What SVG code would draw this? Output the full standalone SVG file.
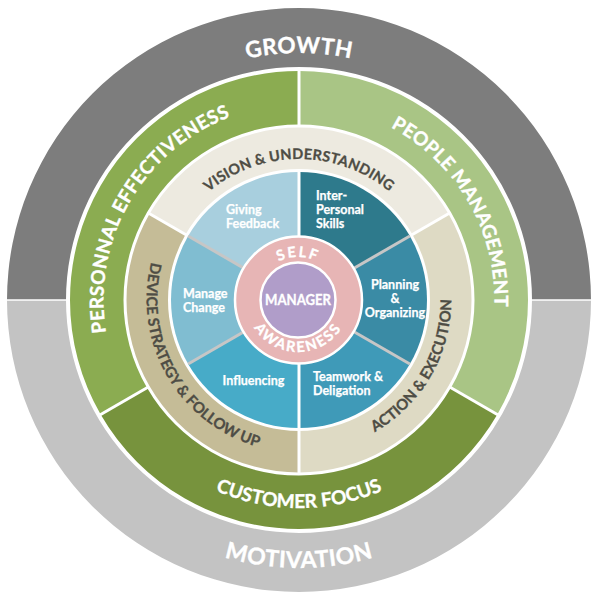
<svg xmlns="http://www.w3.org/2000/svg" xmlns:xlink="http://www.w3.org/1999/xlink" width="600" height="607" viewBox="0 0 600 607">
<style>
.t{font-family:Lato,"Open Sans","Liberation Sans",sans-serif;font-weight:700}
.w{fill:#ffffff;stroke:#ffffff;stroke-width:0.35}
.c{fill:#4e4d45;stroke:#4e4d45;stroke-width:0.3}
.sep{stroke:#ffffff;stroke-width:3;fill:none}
.bsep{stroke:#c6c6c6;stroke-width:3;fill:none}
.lbl{font-family:Lato,"Open Sans","Liberation Sans",sans-serif;font-weight:700;font-size:12.5px;fill:#ffffff;stroke:#ffffff;stroke-width:0.25}
</style>
<defs>
<path id="pGrowth" d="M52,300 A247,247 0 0 1 546,300"/>
<path id="pMotiv" d="M31,300 A268,268 0 0 0 567,300"/>
<path id="pPersonal" d="M201,469.74 A196,196 0 0 1 397,130.26"/>
<path id="pPeople" d="M201,130.26 A196,196 0 0 1 397,469.74"/>
<path id="pCustomer" d="M91,300 A208,208 0 0 0 507,300"/>
<path id="pVision" d="M158,300 A141,141 0 0 1 440,300"/>
<path id="pDevice" d="M222.5,167.5 A153,153 0 0 0 375.5,432.5"/>
<path id="pAction" d="M222.5,432.5 A153,153 0 0 0 375.5,167.5"/>
<path id="pSelf" d="M255,300 A43,43 0 0 1 341,300"/>
<path id="pAware" d="M246,300 A52,52 0 0 0 350,300"/>
</defs>
<rect width="600" height="607" fill="#ffffff"/>

<g id="growth">
<path d="M7,300 A292,292 0 0 1 591,300 L532,300 A233,233 0 0 0 66,300 Z" fill="#7d7d7d"/>
<text class="t w" font-size="22.5" letter-spacing="0.4"><textPath href="#pGrowth" startOffset="50%" text-anchor="middle">GROWTH</textPath></text>
</g>
<g id="motivation">
<path d="M7,300 A292,292 0 0 0 591,300 L532,300 A233,233 0 0 1 66,300 Z" fill="#c3c3c3"/>
<text class="t w" font-size="23" letter-spacing="0.5"><textPath href="#pMotiv" startOffset="50%" text-anchor="middle">MOTIVATION</textPath></text>
</g>

<g id="personal-effectiveness">
<path d="M100.68,414.5 A229,229 0 0 1 299,71 L299,124.5 A175.5,175.5 0 0 0 147.01,387.75 Z" fill="#8bac51"/>
<text class="t w" font-size="19" letter-spacing="0.4"><textPath href="#pPersonal" startOffset="50%" text-anchor="middle">PERSONNAL EFFECTIVENESS</textPath></text>
</g>
<g id="people-management">
<path d="M299,71 A229,229 0 0 1 497.32,414.5 L450.99,387.75 A175.5,175.5 0 0 0 299,124.5 Z" fill="#a9c585"/>
<text class="t w" font-size="19" letter-spacing="0.3"><textPath href="#pPeople" startOffset="50%" text-anchor="middle">PEOPLE MANAGEMENT</textPath></text>
</g>
<g id="customer-focus">
<path d="M497.32,414.5 A229,229 0 0 1 100.68,414.5 L147.01,387.75 A175.5,175.5 0 0 0 450.99,387.75 Z" fill="#77933d"/>
<text class="t w" font-size="19"><textPath href="#pCustomer" startOffset="50%" text-anchor="middle">CUSTOMER FOCUS</textPath></text>
</g>

<g id="vision-understanding">
<path d="M149.61,213.75 A172.5,172.5 0 0 1 448.39,213.75 L412.45,234.5 A131,131 0 0 0 185.55,234.5 Z" fill="#edeae0"/>
<text class="t c" font-size="14.5" letter-spacing="0.2"><textPath href="#pVision" startOffset="50%" text-anchor="middle">VISION &amp; UNDERSTANDING</textPath></text>
</g>
<g id="action-execution">
<path d="M448.39,213.75 A172.5,172.5 0 0 1 299,472.5 L299,431 A131,131 0 0 0 412.45,234.5 Z" fill="#dedac4"/>
<text class="t c" font-size="15"><textPath href="#pAction" startOffset="50%" text-anchor="middle">ACTION &amp; EXECUTION</textPath></text>
</g>
<g id="device-strategy">
<path d="M299,472.5 A172.5,172.5 0 0 1 149.61,213.75 L185.55,234.5 A131,131 0 0 0 299,431 Z" fill="#c5bc97"/>
<text class="t c" font-size="15"><textPath href="#pDevice" startOffset="50%" text-anchor="middle">DEVICE STRATEGY &amp; FOLLOW UP</textPath></text>
</g>

<g id="giving-feedback">
<path d="M299,300 L188.15,236 A128,128 0 0 1 299,172 Z" fill="#a8cfde"/>
<text class="lbl" x="226" y="214">Giving</text>
<text class="lbl" x="226" y="228">Feedback</text>
</g>
<g id="inter-personal-skills">
<path d="M299,300 L299,172 A128,128 0 0 1 409.85,236 Z" fill="#2e7a8c"/>
<text class="lbl" x="316" y="200">Inter-</text>
<text class="lbl" x="316" y="214">Personal</text>
<text class="lbl" x="316" y="228">Skills</text>
</g>
<g id="planning-organizing">
<path d="M299,300 L409.85,236 A128,128 0 0 1 409.85,364 Z" fill="#3a8ba5"/>
<text class="lbl" x="395" y="289" text-anchor="middle">Planning</text>
<text class="lbl" x="395" y="303" text-anchor="middle">&amp;</text>
<text class="lbl" x="395" y="317" text-anchor="middle">Organizing</text>
</g>
<g id="teamwork-delegation">
<path d="M299,300 L409.85,364 A128,128 0 0 1 299,428 Z" fill="#3f9ab8"/>
<text class="lbl" x="313" y="381">Teamwork &amp;</text>
<text class="lbl" x="313" y="395">Deligation</text>
</g>
<g id="influencing">
<path d="M299,300 L299,428 A128,128 0 0 1 188.15,364 Z" fill="#47abc8"/>
<text class="lbl" x="253.5" y="385" text-anchor="middle">Influencing</text>
</g>
<g id="manage-change">
<path d="M299,300 L188.15,364 A128,128 0 0 1 188.15,236 Z" fill="#80bdd1"/>
<text class="lbl" x="183" y="298">Manage</text>
<text class="lbl" x="183" y="312">Change</text>
</g>

<g id="separators">
<line class="sep" x1="299" y1="68" x2="299" y2="127"/>
<line class="sep" x1="149.18" y1="386.5" x2="98.09" y2="416"/>
<line class="sep" x1="448.82" y1="386.5" x2="499.91" y2="416"/>
<line class="sep" x1="187.28" y1="235.5" x2="148.32" y2="213"/>
<line class="sep" x1="410.72" y1="235.5" x2="449.68" y2="213"/>
<line class="sep" x1="299" y1="429" x2="299" y2="474"/>
<line x1="5" y1="300" x2="68" y2="300" stroke="#ffffff" stroke-width="1.5"/>
<line x1="530" y1="300" x2="594" y2="300" stroke="#ffffff" stroke-width="1.5"/>
<line class="bsep" x1="299" y1="300" x2="188.15" y2="236"/>
<line class="bsep" x1="299" y1="300" x2="409.85" y2="236"/>
<line class="bsep" x1="299" y1="300" x2="409.85" y2="364"/>
<line class="bsep" x1="299" y1="300" x2="188.15" y2="364"/>
<line class="sep" x1="299" y1="300" x2="299" y2="172"/>
<line class="sep" x1="299" y1="300" x2="299" y2="428"/>
</g>

<g id="self-awareness">
<circle cx="298.5" cy="300" r="63.5" fill="#e7b5b5" stroke="#ffffff" stroke-width="2.5"/>
<text class="t w" font-size="14.5" letter-spacing="2"><textPath href="#pSelf" startOffset="50%" text-anchor="middle">SELF</textPath></text>
<text class="t w" font-size="14.5" letter-spacing="2"><textPath href="#pAware" startOffset="50%" text-anchor="middle">AWARENESS</textPath></text>
</g>
<g id="manager">
<circle cx="298" cy="300" r="37.5" fill="#b09dc9" stroke="#ffffff" stroke-width="2.5"/>
<text class="t w" x="298" y="305" font-size="15.5" text-anchor="middle" textLength="66" lengthAdjust="spacingAndGlyphs">MANAGER</text>
</g>
</svg>
